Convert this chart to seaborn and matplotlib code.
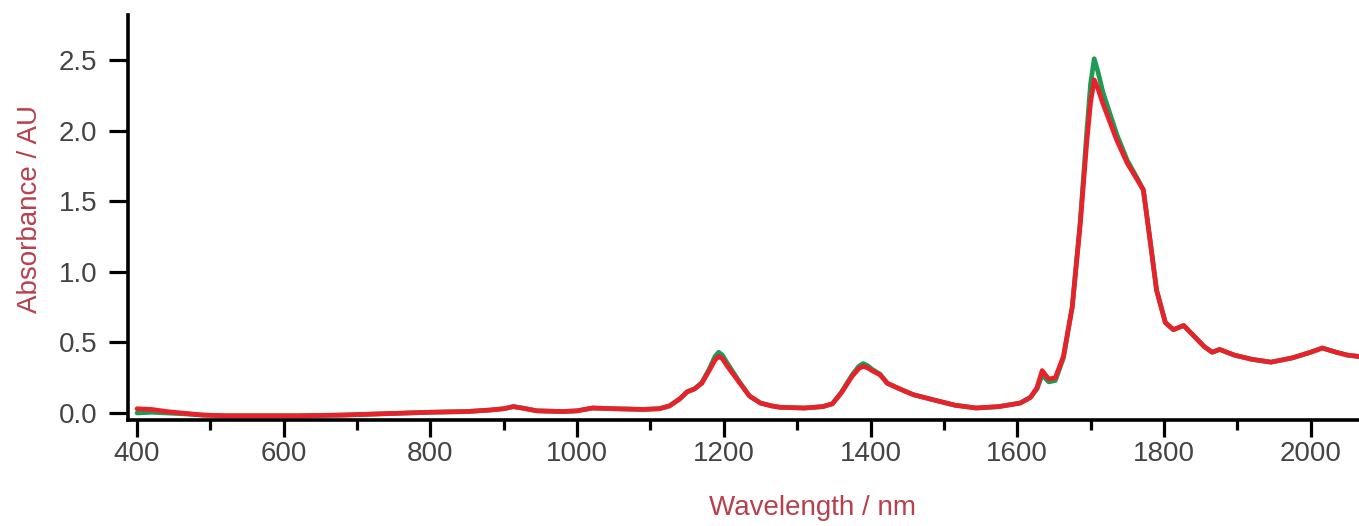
"""NIR absorbance spectrum of two samples, redrawn with seaborn."""
import numpy as np
import pandas as pd
import matplotlib
matplotlib.use("Agg")
import matplotlib.pyplot as plt
import seaborn as sns
from matplotlib.ticker import MultipleLocator

# Wavelength grid (nm)
wavelength = [
    400, 420, 440, 460, 490, 520, 560, 620, 680, 740, 800, 850, 880, 900,
    913, 925, 945, 980, 1000, 1021, 1050, 1090, 1112, 1126, 1140, 1150,
    1160, 1170, 1180, 1188, 1193, 1198, 1205, 1222, 1235, 1250, 1265, 1277,
    1310, 1335, 1348, 1360, 1375, 1384, 1390, 1396, 1402, 1413, 1423, 1440,
    1458, 1488, 1515, 1544, 1575, 1604, 1618, 1627, 1634, 1643, 1652, 1663,
    1675, 1686, 1695, 1700, 1705, 1710, 1717, 1736, 1750, 1764, 1772, 1781,
    1790, 1802, 1813, 1827, 1840, 1855, 1866, 1876, 1896, 1920, 1946, 1975,
    2000, 2016, 2035, 2050, 2066,
]

# Red trace (drawn on top)
absorb_red = [
    0.030, 0.025, 0.010, 0.000, -0.015, -0.020, -0.020, -0.020, -0.015,
    -0.005, 0.005, 0.010, 0.020, 0.030, 0.045, 0.035, 0.015, 0.010, 0.015,
    0.035, 0.030, 0.025, 0.030, 0.050, 0.100, 0.150, 0.170, 0.210, 0.300,
    0.375, 0.400, 0.385, 0.330, 0.210, 0.120, 0.070, 0.050, 0.040, 0.035,
    0.045, 0.065, 0.140, 0.260, 0.315, 0.330, 0.320, 0.300, 0.270, 0.210,
    0.170, 0.130, 0.090, 0.055, 0.035, 0.045, 0.070, 0.110, 0.180, 0.300,
    0.240, 0.250, 0.400, 0.750, 1.340, 1.930, 2.200, 2.360, 2.300, 2.190,
    1.930, 1.770, 1.650, 1.580, 1.230, 0.870, 0.640, 0.590, 0.620, 0.550,
    0.470, 0.430, 0.450, 0.410, 0.380, 0.360, 0.390, 0.430, 0.460, 0.430,
    0.410, 0.400,
]

# Green trace (underneath, slightly higher peaks)
absorb_green = [
    0.000, 0.005, 0.000, -0.005, -0.015, -0.020, -0.020, -0.020, -0.015,
    -0.005, 0.005, 0.010, 0.020, 0.030, 0.045, 0.035, 0.015, 0.010, 0.015,
    0.035, 0.030, 0.025, 0.030, 0.050, 0.100, 0.150, 0.170, 0.215, 0.310,
    0.400, 0.430, 0.410, 0.350, 0.215, 0.120, 0.070, 0.050, 0.040, 0.035,
    0.045, 0.065, 0.145, 0.270, 0.330, 0.350, 0.335, 0.310, 0.275, 0.210,
    0.170, 0.130, 0.090, 0.055, 0.035, 0.045, 0.070, 0.110, 0.170, 0.270,
    0.220, 0.230, 0.390, 0.750, 1.360, 2.000, 2.330, 2.510, 2.420, 2.270,
    1.970, 1.790, 1.660, 1.580, 1.230, 0.870, 0.640, 0.590, 0.620, 0.550,
    0.470, 0.430, 0.450, 0.410, 0.380, 0.360, 0.390, 0.430, 0.460, 0.430,
    0.410, 0.400,
]

series_names = ["Sample 1", "Sample 2"]
y_ticks = [0.0, 0.5, 1.0, 1.5, 2.0, 2.5]

LABEL_RED = "#b8404c"
TICK_GREY = "#444444"

sns.set_theme(style="ticks")
plt.rcParams["font.family"] = ["Liberation Sans", "DejaVu Sans"]

df = pd.DataFrame({
    "wavelength": wavelength * 2,
    "absorbance": absorb_green + absorb_red,
    "series": [series_names[0]] * len(wavelength) + [series_names[1]] * len(wavelength),
})

fig = plt.figure(figsize=(13.59, 5.26), dpi=100)
ax = fig.add_axes([0.0942, 0.2015, 0.9058, 0.77])

sns.lineplot(
    data=df, x="wavelength", y="absorbance", hue="series",
    hue_order=series_names, palette=["#1f9a55", "#e8222b"],
    linewidth=3.4, legend=False, sort=False, ax=ax,
)

ax.set_xlim(387.7, 2066)
ax.set_ylim(-0.05, 2.82)
ax.xaxis.set_major_locator(MultipleLocator(200))
ax.xaxis.set_minor_locator(MultipleLocator(100))
ax.set_yticks(y_ticks)
ax.set_yticklabels([f"{v:.1f}" for v in y_ticks])

for side in ["top", "right"]:
    ax.spines[side].set_visible(False)
for side in ["left", "bottom"]:
    ax.spines[side].set_linewidth(2.6)
    ax.spines[side].set_color("black")

ax.tick_params(axis="y", which="major", length=14, width=2.3, pad=8,
               color="black", labelsize=20, labelcolor=TICK_GREY, direction="out")
ax.tick_params(axis="x", which="major", length=12, width=2.3, pad=3,
               color="black", labelsize=20, labelcolor=TICK_GREY, direction="out")
ax.tick_params(axis="x", which="minor", length=7, width=2.3, color="black", direction="out")

ax.set_xlabel("Wavelength / nm", fontsize=20, color=LABEL_RED)
ax.xaxis.set_label_coords(0.556, -0.185)
ax.set_ylabel("Absorbance / AU", fontsize=20, color=LABEL_RED)
ax.yaxis.set_label_coords(-0.069, 0.52)
ax.grid(False)

fig.savefig("out.png", dpi=100)
